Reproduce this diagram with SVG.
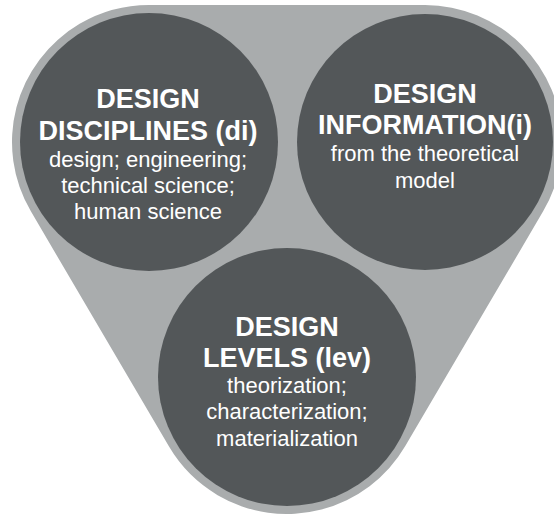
<svg xmlns="http://www.w3.org/2000/svg" width="554" height="514" viewBox="0 0 554 514">
  <style>
    .circle { fill: #535759; }
    .title { font-family: "Liberation Sans", Arial, sans-serif; font-weight: bold; font-size: 27px; fill: #ffffff; text-anchor: middle; }
    .sub { font-family: "Liberation Sans", Arial, sans-serif; font-size: 22px; fill: #ffffff; text-anchor: middle; }
  </style>
  <rect width="554" height="514" fill="#ffffff"/>
  <g id="background">
    <polygon points="149,142 425,142 287,377" fill="#a9acad" stroke="#a9acad" stroke-width="274" stroke-linejoin="round"/>
  </g>
  <g id="connectors"></g>
  <g id="node-disciplines">
    <circle class="circle" cx="149" cy="142" r="129"/>
    <text class="title" x="148" y="108">DESIGN</text>
    <text class="title" x="148" y="140">DISCIPLINES (di)</text>
    <text class="sub" x="148" y="167">design; engineering;</text>
    <text class="sub" x="148" y="193">technical science;</text>
    <text class="sub" x="148" y="219">human science</text>
  </g>
  <g id="node-information">
    <circle class="circle" cx="425" cy="142" r="128"/>
    <text class="title" x="425" y="103">DESIGN</text>
    <text class="title" x="425" y="134">INFORMATION(i)</text>
    <text class="sub" x="425" y="161">from the theoretical</text>
    <text class="sub" x="425" y="188">model</text>
  </g>
  <g id="node-levels">
    <circle class="circle" cx="287" cy="377" r="129"/>
    <text class="title" x="287" y="336">DESIGN</text>
    <text class="title" x="287" y="367">LEVELS (lev)</text>
    <text class="sub" x="287" y="393">theorization;</text>
    <text class="sub" x="287" y="419">characterization;</text>
    <text class="sub" x="287" y="446">materialization</text>
  </g>
</svg>
